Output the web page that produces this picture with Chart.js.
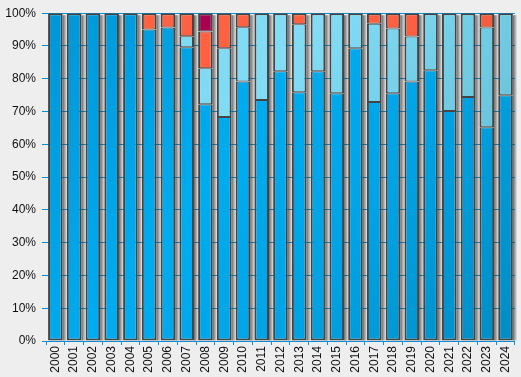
<!DOCTYPE html>
<html>
<head>
<meta charset="utf-8">
<script src="https://cdn.jsdelivr.net/npm/chart.js@4/dist/chart.umd.min.js"></script>
<style>
  html, body { margin: 0; padding: 0; background: #eeeeee; }
  #wrap { width: 521px; height: 377px; }
</style>
</head>
<body>
<div id="wrap"><canvas id="chart" width="521" height="377"></canvas></div>
<script>
var years = ['2000','2001','2002','2003','2004','2005','2006','2007','2008','2009','2010','2011','2012',
             '2013','2014','2015','2016','2017','2018','2019','2020','2021','2022','2023','2024'];
var blueShare  = [100,100,100,100,100,95.0,95.6,89.6,72.2,68.3,79.2,73.5,82.3,75.9,82.3,75.6,89.3,72.9,75.6,79.2,82.6,70.2,74.4,65.2,75.0];
var lightShare = [null,null,null,null,null,null,null,3.4,11.0,21.0,16.5,26.5,17.7,20.7,17.7,24.4,10.7,23.9,19.7,13.7,17.4,29.8,25.6,30.4,25.0];
var redShare   = [null,null,null,null,null,5.0,4.4,7.0,11.2,10.7,4.3,null,null,3.4,null,null,null,3.2,4.7,7.1,null,null,null,4.4,null];
var plumShare  = [null,null,null,null,null,null,null,null,5.6,null,null,null,null,null,null,null,null,null,null,null,null,null,null,null,null];
var yTicks = [0,10,20,30,40,50,60,70,80,90,100];

var axisBlue = '#0a8fd2';

// diagonal shading across the plot, brighter in the middle-left
function shade(stops) {
  return function (ctx) {
    var chart = ctx.chart, a = chart.chartArea;
    if (!a) return stops[0][1];
    var g = chart.ctx.createLinearGradient(a.left, a.top, a.right, a.bottom);
    stops.forEach(function (s) { g.addColorStop(s[0], s[1]); });
    return g;
  };
}

// outer edges 2px, shared edges between stacked pieces 1px each side
function edges(ctx) {
  var i = ctx.dataIndex, k = ctx.datasetIndex, sets = ctx.chart.data.datasets;
  if (i == null) return 2;
  var top = true;
  for (var j = k + 1; j < sets.length; j++) if (sets[j].data[i] != null) top = false;
  return {left: 2, right: 2, top: top ? 2 : 1, bottom: k === 0 ? 2 : 1};
}

// grey drop shadow to the right of each stacked column
var shadowPlugin = {
  id: 'barShadow',
  beforeDatasetsDraw: function (chart) {
    var c = chart.ctx;
    var base = chart.getDatasetMeta(0).data;
    c.save();
    base.forEach(function (el, i) {
      var top = el.y;
      chart.data.datasets.forEach(function (d, k) {
        if (d.data[i] != null) top = Math.min(top, chart.getDatasetMeta(k).data[i].y);
      });
      var right = el.x + el.width / 2;
      var g = c.createLinearGradient(right, 0, right + 4, 0);
      g.addColorStop(0, 'rgba(60,60,60,0.75)');
      g.addColorStop(1, 'rgba(60,60,60,0.1)');
      c.fillStyle = g;
      c.fillRect(right, top + 2, 4, el.base - top - 2);
    });
    c.restore();
  }
};

function ds(data, stops) {
  return {
    data: data,
    backgroundColor: shade(stops),
    borderColor: '#444444',
    borderWidth: edges,
    borderSkipped: false,
    barPercentage: 0.78,
    categoryPercentage: 1.0
  };
}

new Chart('chart', {
  type: 'bar',
  data: {
    labels: years,
    datasets: [
      ds(blueShare, [[0, '#0096d6'], [0.4, '#00acf0'], [0.65, '#00a4e6'], [1, '#008cc4']]),
      ds(lightShare, [[0, '#7ad6f0'], [0.4, '#82dcf6'], [0.65, '#70cce4'], [1, '#62b4c8']]),
      ds(redShare, [[0, '#ff6242'], [0.5, '#ff6040'], [1, '#dc5438']]),
      ds(plumShare, [[0, '#ac0052'], [1, '#98004a']])
    ]
  },
  plugins: [shadowPlugin],
  options: {
    responsive: false,
    animation: false,
    layout: {padding: {top: 12, right: 3, left: 0, bottom: 0}},
    plugins: {legend: {display: false}, tooltip: {enabled: false}},
    scales: {
      x: {
        stacked: true,
        grid: {display: true, drawOnChartArea: false, drawTicks: true, tickLength: 4, color: axisBlue, offset: true},
        border: {display: true, color: axisBlue, width: 1},
        ticks: {minRotation: 90, maxRotation: 90, padding: 1, color: '#111',
                font: {family: '"Liberation Sans", Arial, sans-serif', size: 12}},
        afterFit: function (s) { s.height = 36; }
      },
      y: {
        stacked: true,
        min: 0, max: 100,
        afterBuildTicks: function (s) { s.ticks = yTicks.map(function (v) { return {value: v}; }); },
        grid: {color: axisBlue, tickLength: 4, lineWidth: 1},
        border: {display: false},
        ticks: {padding: 6, color: '#111',
                font: {family: '"Liberation Sans", Arial, sans-serif', size: 12},
                callback: function (v) { return v + '%'; }},
        afterFit: function (s) { s.width = 46; }
      }
    }
  }
});
</script>
</body>
</html>
